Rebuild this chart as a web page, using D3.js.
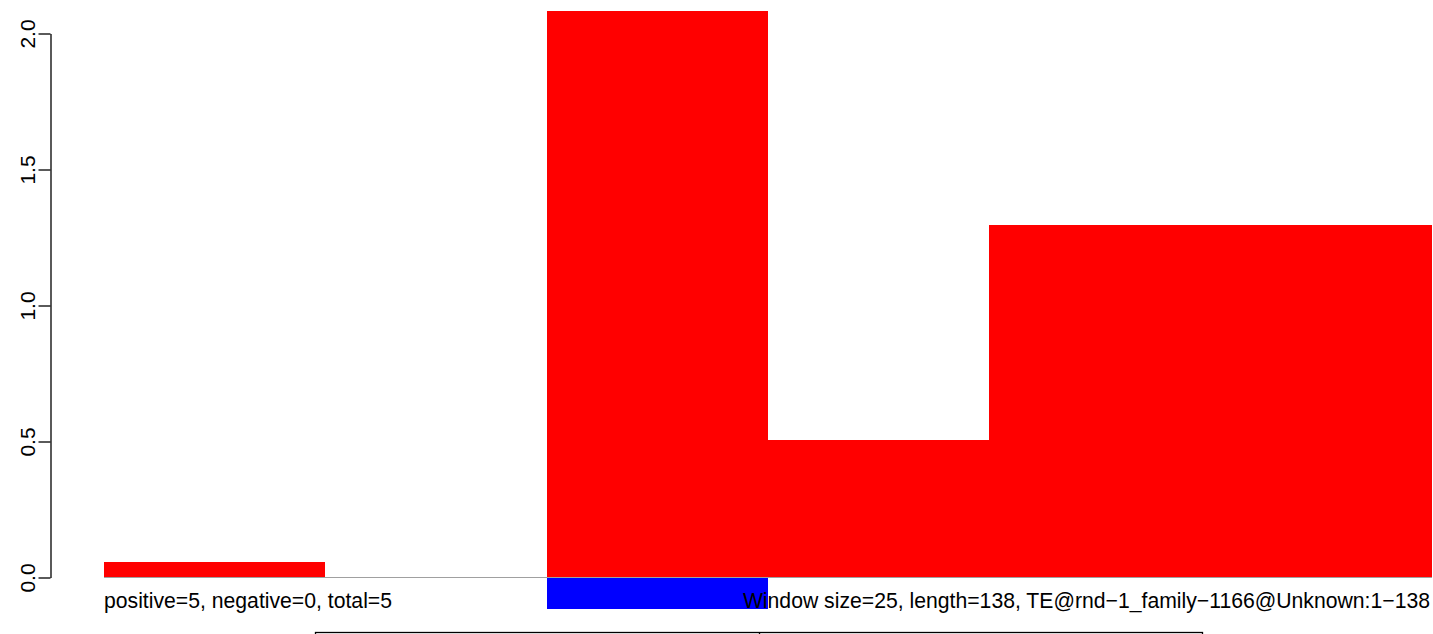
<!DOCTYPE html>
<html>
<head>
<meta charset="utf-8">
<script src="https://cdn.jsdelivr.net/npm/d3@7"></script>
<style>
  html, body { margin: 0; padding: 0; background: #ffffff; }
  svg { display: block; font-family: "Liberation Sans", Arial, Helvetica, sans-serif; }
</style>
</head>
<body>
<svg id="chart" width="1433" height="634"></svg>
<script>
// ---- data ----
const windowStart = [1, 26, 51, 76, 101, 126];
const positiveValues = [0.055, 0, 2.08, 0.504, 1.294, 1.294];
const negativeValues = [0, 0, -0.118, 0, 0, 0];
const yTicks = [0, 0.5, 1.0, 1.5, 2.0];
const leftText = "positive=5, negative=0, total=5";
const rightText = "Window size=25, length=138, TE@rnd\u22121_family\u22121166@Unknown:1\u2212138";

const svg = d3.select("#chart");

const x = d3.scaleLinear().domain([0, windowStart.length]).range([104, 1432]);
const y = d3.scaleLinear().domain([0, 2]).range([577, 33]);

const idx = d3.range(windowStart.length);

// positive bars
svg.append("g").selectAll("rect")
  .data(idx.filter(i => positiveValues[i] > 0))
  .join("rect")
  .attr("x", i => x(i))
  .attr("width", i => x(i + 1) - x(i))
  .attr("y", i => y(positiveValues[i]))
  .attr("height", i => y(0) - y(positiveValues[i]))
  .attr("fill", "#ff0000")
  .attr("shape-rendering", "crispEdges");

// negative bars
svg.append("g").selectAll("rect")
  .data(idx.filter(i => negativeValues[i] < 0))
  .join("rect")
  .attr("x", i => x(i))
  .attr("width", i => x(i + 1) - x(i))
  .attr("y", y(0))
  .attr("height", i => y(negativeValues[i]) - y(0))
  .attr("fill", "#0000ff")
  .attr("shape-rendering", "crispEdges");

// baseline
svg.append("line")
  .attr("x1", x(0)).attr("x2", x(windowStart.length))
  .attr("y1", Math.round(y(0)) + 0.5).attr("y2", Math.round(y(0)) + 0.5)
  .attr("stroke", "#a0a0a0").attr("stroke-width", 1);

// y axis
const axis = d3.axisLeft(y)
  .tickValues(yTicks)
  .tickFormat(d3.format(".1f"))
  .tickSize(12)
  .tickSizeOuter(0);

const gAxis = svg.append("g")
  .attr("transform", "translate(50.5,0.5)")
  .call(axis);
gAxis.select(".domain").attr("stroke", "#000").attr("stroke-width", 1.3);
gAxis.selectAll(".tick line").attr("stroke", "#000").attr("stroke-width", 1.3);
gAxis.selectAll(".tick text")
  .attr("transform", "rotate(-90)")
  .attr("text-anchor", "middle")
  .attr("x", 0)
  .attr("y", -16)
  .attr("dy", 0)
  .attr("fill", "#000")
  .style("font-size", "21px")
  .style("font-family", "'Liberation Sans', Arial, sans-serif");

// bottom texts
svg.append("text")
  .attr("x", 104).attr("y", 608)
  .attr("font-size", 21.2)
  .attr("fill", "#000")
  .text(leftText);

svg.append("text")
  .attr("x", 1430).attr("y", 608)
  .attr("text-anchor", "end")
  .attr("font-size", 21.2)
  .attr("fill", "#000")
  .text(rightText);

// partially visible legend box at the bottom
svg.append("rect")
  .attr("x", 315.5).attr("y", 632.5)
  .attr("width", 887).attr("height", 20)
  .attr("fill", "none").attr("stroke", "#000").attr("stroke-width", 1.3);
svg.append("line")
  .attr("x1", 759.5).attr("x2", 759.5)
  .attr("y1", 632).attr("y2", 640)
  .attr("stroke", "#000").attr("stroke-width", 1.3);
</script>
</body>
</html>
